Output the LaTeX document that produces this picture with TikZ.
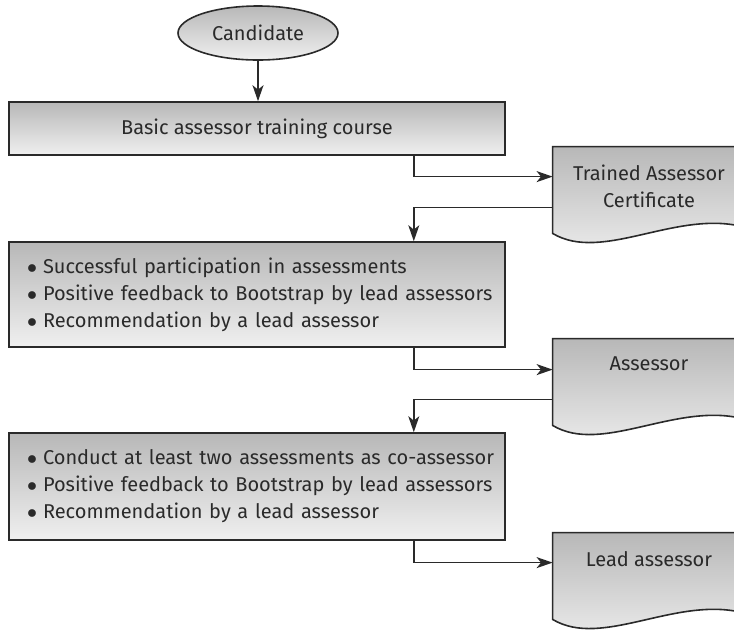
\documentclass[tikz,border=0pt]{standalone}
\usepackage{fontspec}
\setmainfont{Fira Sans}
\usepackage{xcolor}
\usetikzlibrary{arrows.meta,positioning,shapes.geometric,calc}

\definecolor{ink}{HTML}{2A2A2A}

\begin{document}
\begin{tikzpicture}[x=0.5pt, y=-0.5pt, >={Stealth[length=8pt,width=5.5pt,inset=2.2pt]},
  every node/.style={font=\fontsize{10}{13.5}\selectfont, text=ink},
  stepbox/.style={draw=ink, line width=0.8pt, top color=black!28, bottom color=black!6, minimum width=248pt, inner sep=0pt},
  listbox/.style={stepbox, align=left, text width=230pt, inner xsep=9pt},
  docbox/.style={minimum width=96pt, minimum height=43pt, inner sep=0pt},
  docfill/.style={draw=ink, line width=0.8pt, top color=black!28, bottom color=black!6},
  link/.style={->, draw=ink, line width=0.8pt}]
  \useasboundingbox (0,0) rectangle (734,629);
  \newcommand{\itm}[1]{\mbox{\makebox[8pt][l]{$\bullet$}#1}}

  \node[ellipse, draw=ink, line width=0.8pt, top color=black!28, bottom color=black!6, minimum width=80pt, minimum height=27pt, inner sep=0pt] (cand) at (258,33) {Candidate};
  \node[stepbox, minimum height=26.5pt] (basic) at (257,128.5) {Basic assessor training course};
  \node[listbox, minimum height=52.5pt] (partic) at (257,294.5) {\itm{Successful participation in assessments}\\ \itm{Positive feedback to Bootstrap by lead assessors}\\ \itm{Recommendation by a lead assessor}};
  \node[listbox, minimum height=53.5pt] (coass) at (257,486.5) {\itm{Conduct at least two assessments as co-assessor}\\ \itm{Positive feedback to Bootstrap by lead assessors}\\ \itm{Recommendation by a lead assessor}};

  % document shapes
  \foreach \d/\y in {cert/190, assr/382, lead/576} {
    \node[docbox] (\d) at (649,\y) {};
    \shade[docfill] (\d.north west) -- (\d.north east) -- ([yshift=3pt]\d.south east)
      .. controls ([shift={(125,-25)}]\d.south west) and ([shift={(50,30)}]\d.south west) .. (\d.south west) -- cycle;
  }
  \node[anchor=north, align=center, inner sep=0pt] (certtxt) at ([yshift=-9pt]cert.north) {Trained Assessor\\Certificate};
  \node[anchor=north, inner sep=0pt] (assrtxt) at ([yshift=-9pt]assr.north) {Assessor};
  \node[anchor=north, inner sep=0pt] (leadtxt) at ([yshift=-9pt]lead.north) {Lead assessor};

  \draw[link] (cand.south) -- (cand.south |- basic.north);
  \draw[link] ([xshift=-46pt]basic.south east) |- ([yshift=-15pt]cert.north west);
  \draw[link] ([yshift=-30.5pt]cert.north west) -| ([xshift=-46pt]partic.north east);
  \draw[link] ([xshift=-46pt]partic.south east) |- ([yshift=-15.5pt]assr.north west);
  \draw[link] ([yshift=-30.5pt]assr.north west) -| ([xshift=-46pt]coass.north east);
  \draw[link] ([xshift=-46pt]coass.south east) |- ([yshift=-15pt]lead.north west);
\end{tikzpicture}
\end{document}
